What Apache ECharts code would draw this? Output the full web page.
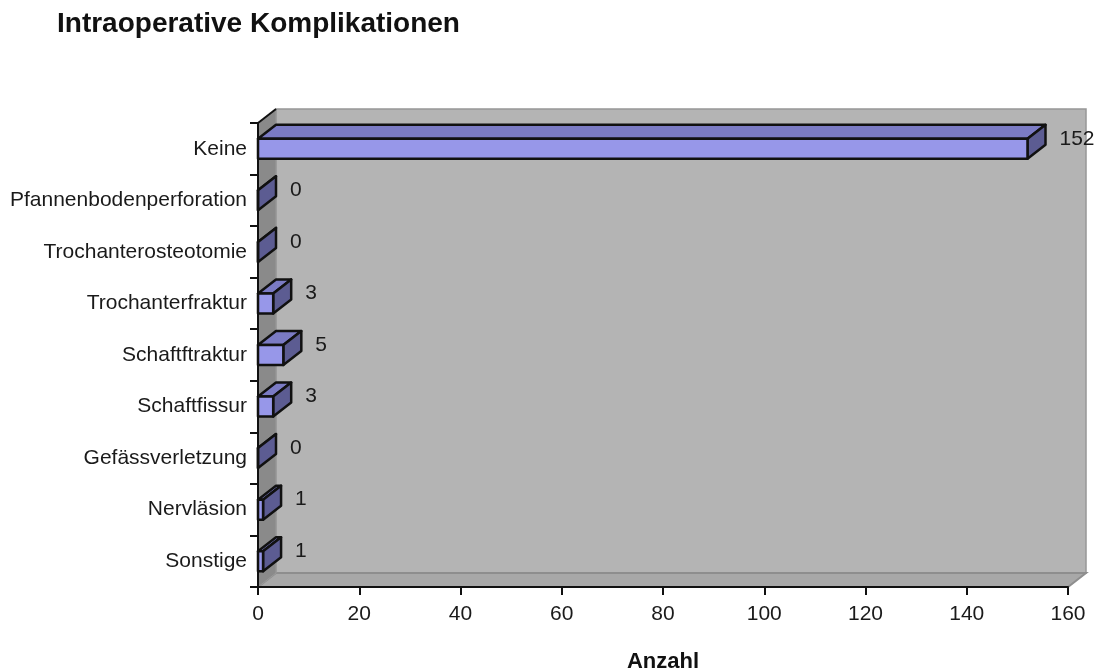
<!DOCTYPE html>
<html>
<head>
<meta charset="utf-8">
<title>Intraoperative Komplikationen</title>
<script src="https://cdn.jsdelivr.net/npm/echarts@6/dist/echarts.min.js"></script>
<style>
  html, body { margin: 0; padding: 0; background: #fff; }
  #chart { width: 1109px; height: 671px; }
</style>
</head>
<body>
<div id="chart"></div>
<script>
// data
const categories = [
  'Keine',
  'Pfannenbodenperforation',
  'Trochanterosteotomie',
  'Trochanterfraktur',
  'Schaftftraktur',
  'Schaftfissur',
  'Gefässverletzung',
  'Nervläsion',
  'Sonstige'
];
const counts = [152, 0, 0, 3, 5, 3, 0, 1, 1];
const xTicks = [0, 20, 40, 60, 80, 100, 120, 140, 160];

const FONT = 'Arial, "Liberation Sans", sans-serif';
// fake 3d depth of the excel look
const DX = 18;
const DY = -14;
const BAR_H = 20;

const chart = echarts.init(document.getElementById('chart'));

function renderWalls(params, api) {
  const band = api.size([0, 1])[1];
  const left = api.coord([xTicks[0], 0])[0];
  const right = api.coord([xTicks[xTicks.length - 1], 0])[0];
  const top = api.coord([0, 0])[1] - band / 2;
  const bottom = api.coord([0, categories.length - 1])[1] + band / 2;

  return {
    type: 'group',
    children: [
      {
        // back wall
        type: 'polygon',
        shape: { points: [[left + DX, top + DY], [right + DX, top + DY], [right + DX, bottom + DY], [left + DX, bottom + DY]] },
        style: { fill: '#b4b4b4', stroke: '#969696', lineWidth: 1.5 }
      },
      {
        // floor
        type: 'polygon',
        shape: { points: [[left, bottom], [right, bottom], [right + DX, bottom + DY], [left + DX, bottom + DY]] },
        style: { fill: '#a8a8a8', stroke: '#8e8e8e', lineWidth: 2 }
      },
      {
        // side wall
        type: 'polygon',
        shape: { points: [[left, top], [left + DX, top + DY], [left + DX, bottom + DY], [left, bottom]] },
        style: { fill: '#8a8a8a', stroke: '#9a9a9a', lineWidth: 1 }
      },
      {
        type: 'line',
        shape: { x1: left, y1: top, x2: left + DX, y2: top + DY },
        style: { stroke: '#111', lineWidth: 2 }
      }
    ]
  };
}

function renderBar(params, api) {
  const p0 = api.coord([0, api.value(1)]);
  const p1 = api.coord([api.value(0), api.value(1)]);
  const x0 = p0[0];
  const x1 = p1[0];
  const yc = p1[1];
  const yt = yc - BAR_H / 2;
  const yb = yc + BAR_H / 2;
  const line = { stroke: '#111', lineWidth: 2.5, lineJoin: 'round' };

  return {
    type: 'group',
    children: [
      {
        type: 'polygon',
        shape: { points: [[x0, yt], [x1, yt], [x1 + DX, yt + DY], [x0 + DX, yt + DY]] },
        style: Object.assign({ fill: '#7b7bc4' }, line)
      },
      {
        type: 'polygon',
        shape: { points: [[x1, yt], [x1 + DX, yt + DY], [x1 + DX, yb + DY], [x1, yb]] },
        style: Object.assign({ fill: '#5c5c92' }, line)
      },
      {
        type: 'rect',
        shape: { x: x0, y: yt, width: x1 - x0, height: BAR_H },
        style: Object.assign({ fill: '#9797e9' }, line)
      },
      {
        type: 'text',
        x: x1 + DX + 14,
        y: yc - 10,
        style: {
          text: String(api.value(0)),
          fill: '#1a1a1a',
          font: '21px ' + FONT,
          align: 'left',
          verticalAlign: 'middle'
        }
      }
    ]
  };
}

const option = {
  animation: false,
  title: {
    text: 'Intraoperative Komplikationen',
    left: 57,
    top: 10,
    padding: 0,
    textStyle: {
      fontSize: 28,
      fontWeight: 'bold',
      fontFamily: FONT,
      color: '#111'
    }
  },
  grid: {
    left: 258,
    right: 41,
    top: 123,
    bottom: 84,
    outerBoundsMode: 'none'
  },
  xAxis: {
    type: 'value',
    min: xTicks[0],
    max: xTicks[xTicks.length - 1],
    interval: 20,
    name: 'Anzahl',
    nameLocation: 'middle',
    nameGap: 64,
    nameTextStyle: {
      fontSize: 22,
      fontWeight: 'bold',
      fontFamily: FONT,
      color: '#111'
    },
    splitLine: { show: false },
    axisLine: { show: true, lineStyle: { color: '#111', width: 2 } },
    axisTick: { show: true, length: 8, lineStyle: { color: '#111', width: 2 } },
    axisLabel: {
      fontSize: 21,
      fontFamily: FONT,
      color: '#1a1a1a',
      margin: 17
    }
  },
  yAxis: {
    type: 'category',
    data: categories,
    inverse: true,
    axisLine: { show: true, lineStyle: { color: '#111', width: 2 } },
    axisTick: { show: true, length: 8, lineStyle: { color: '#111', width: 2 } },
    axisLabel: {
      fontSize: 21,
      fontFamily: FONT,
      color: '#1a1a1a',
      margin: 11
    }
  },
  series: [
    {
      type: 'custom',
      z: -1,
      silent: true,
      renderItem: renderWalls,
      data: [[0, 0]]
    },
    {
      type: 'custom',
      renderItem: renderBar,
      data: counts.map((v, i) => [v, i])
    }
  ],
  tooltip: { show: false }
};

chart.setOption(option);
</script>
</body>
</html>
